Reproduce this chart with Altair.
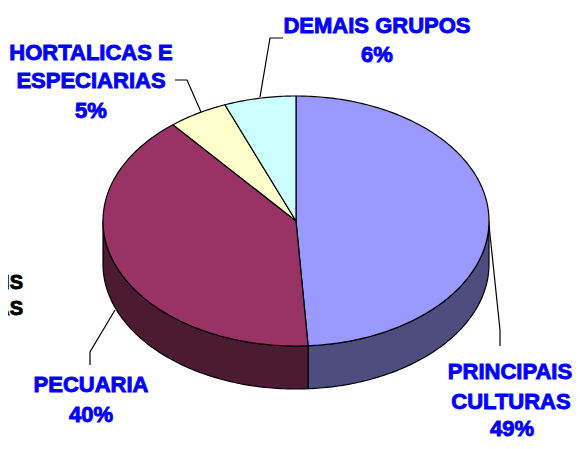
import math
import altair as alt
import pandas as pd

categories = ["PRINCIPAIS CULTURAS", "PECUARIA", "HORTALICAS E ESPECIARIAS", "DEMAIS GRUPOS"]
shares = [49, 40, 5, 6]
top_colors = ["#9999ff", "#993366", "#ffffcc", "#ccffff"]
side_colors = ["#4d4d80", "#4d1a33", "#80806a", "#6a8080"]

OFF = 8
CX, CY, RX, RY, DEPTH = 296 - OFF, 221 - OFF, 193, 125, 43
W, H = 564, 433

x_scale = alt.Scale(domain=[0, W], range=[0, W], nice=False, zero=False)
y_scale = alt.Scale(domain=[0, H], range=[0, H], nice=False, zero=False)
X = lambda: alt.X("x:Q", scale=x_scale, axis=None)
Y = lambda: alt.Y("y:Q", scale=y_scale, axis=None)


def pt(frac, dy=0.0):
    a = 2 * math.pi * frac
    return CX + RX * math.sin(a), CY - RY * math.cos(a) + dy


def arc(f0, f1, dy=0.0):
    n = max(2, int(abs(f1 - f0) * 400))
    return [pt(f0 + (f1 - f0) * i / n, dy) for i in range(n + 1)]


def poly(points, color):
    df = pd.DataFrame(points, columns=["x", "y"]).reset_index(names="i")
    return alt.Chart(df).mark_line(fill=color, stroke="#000000", strokeWidth=1.2,
                                   strokeJoin="round").encode(
        x=X(), y=Y(), order="i:Q")


layers = []
total = sum(shares)
edges = [0.0]
for s in shares:
    edges.append(edges[-1] + s / total)

# visible rim: only the front half of the ellipse (quarter to three quarters)
for k in range(len(shares)):
    a, b = max(edges[k], 0.25), min(edges[k + 1], 0.75)
    if b > a:
        ring = arc(a, b) + arc(b, a, DEPTH)
        ring.append(ring[0])
        layers.append(poly(ring, side_colors[k]))

# top faces
for k in range(len(shares)):
    wedge = [(CX, CY)] + arc(edges[k], edges[k + 1]) + [(CX, CY)]
    layers.append(poly(wedge, top_colors[k]))

# leader lines
leaders = [
    [(283, 38), (270, 38), (260, 97)],
    [(175, 80), (187, 80), (201, 112)],
    [(489, 225), (500, 330), (500, 346)],
    [(115, 310), (90, 352), (90, 365)],
]
for line in leaders:
    df = pd.DataFrame([(px - OFF, py - OFF) for px, py in line], columns=["x", "y"]).reset_index(names="i")
    layers.append(alt.Chart(df).mark_line(stroke="#000000", strokeWidth=1.2).encode(
        x=X(), y=Y(), order="i:Q"))

# labels
blue_text = ["DEMAIS GRUPOS", "6%", "HORTALICAS E", "ESPECIARIAS", "5%",
             "PRINCIPAIS", "CULTURAS", "49%", "PECUARIA", "40%"]
blue_x = [377, 377, 91, 91, 91, 510, 511, 512, 91, 91]
blue_y = [26, 55, 53, 81, 111, 372, 402, 429, 385, 415]
black_text = ["AIS", "AS"]
black_x = [23, 23]
black_y = [283, 309]

bdf = pd.DataFrame({"t": blue_text, "x": [v - OFF for v in blue_x], "y": [v - OFF for v in blue_y]})
layers.append(alt.Chart(bdf).mark_text(font="Liberation Sans", fontWeight="bold", fontSize=22,
                                       color="#0000ff", stroke="#0000ff", strokeWidth=0.9,
                                       align="center", baseline="middle").encode(
    x=X(), y=Y(), text="t:N"))
kdf = pd.DataFrame({"t": black_text, "x": [v - OFF for v in black_x], "y": [v - OFF for v in black_y]})
layers.append(alt.Chart(kdf).mark_text(font="Liberation Sans", fontWeight="bold", fontSize=20,
                                       color="#000000", stroke="#000000", strokeWidth=0.9,
                                       align="right", baseline="middle").encode(
    x=X(), y=Y(), text="t:N"))

chart = alt.layer(*layers).properties(
    width=W, height=H, padding=0, autosize=alt.AutoSizeParams(type="none"),
    background="#ffffff"
).configure_view(stroke=None)

chart.save("out.html", embed_options={"renderer": "svg", "actions": False})
